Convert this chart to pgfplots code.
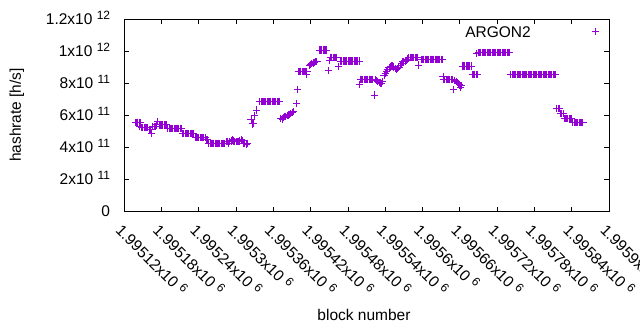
\documentclass[border=0pt]{standalone}
\usepackage{pgfplots}
\pgfplotsset{compat=1.18}
\usepackage{pgfplotstable}
\usepackage{fontspec}
\setmainfont{Liberation Sans}
\definecolor{argon}{RGB}{148,0,211}
\def\stripb#1#2#3#4#5\relax{#5}
\newcommand{\lbl}[2]{#1x10 \raisebox{5bp}{\fontsize{12bp}{12bp}\selectfont #2}}
\pgfplotstableread{
block hashrate
1995138 5.55e11
1995140 5.55e11
1995142 5.55e11
1995144 5.55e11
1995145 5.27e11
1995146 5.55e11
1995148 5.23e11
1995150 5.23e11
1995152 5.23e11
1995154 5.23e11
1995156 5.23e11
1995158 5.23e11
1995160 5.10e11
1995162 5.10e11
1995164 4.86e11
1995166 5.30e11
1995168 5.30e11
1995170 5.30e11
1995172 5.38e11
1995174 5.58e11
1995176 5.38e11
1995178 5.38e11
1995180 5.38e11
1995182 5.38e11
1995184 5.38e11
1995186 5.38e11
1995188 5.38e11
1995190 5.17e11
1995192 5.17e11
1995194 5.17e11
1995196 5.17e11
1995198 5.17e11
1995200 5.17e11
1995202 5.17e11
1995204 5.17e11
1995206 5.17e11
1995208 5.17e11
1995210 5.17e11
1995212 5.17e11
1995214 4.86e11
1995216 4.86e11
1995218 4.86e11
1995220 4.86e11
1995222 4.86e11
1995224 4.86e11
1995226 4.86e11
1995228 4.86e11
1995230 4.86e11
1995232 4.86e11
1995234 4.60e11
1995236 4.60e11
1995238 4.60e11
1995240 4.60e11
1995242 4.60e11
1995244 4.60e11
1995246 4.60e11
1995248 4.60e11
1995250 4.60e11
1995252 4.44e11
1995254 4.44e11
1995256 4.23e11
1995258 4.23e11
1995260 4.23e11
1995262 4.23e11
1995264 4.23e11
1995266 4.23e11
1995268 4.23e11
1995270 4.23e11
1995272 4.23e11
1995274 4.23e11
1995276 4.23e11
1995278 4.23e11
1995280 4.23e11
1995282 4.23e11
1995284 4.33e11
1995286 4.33e11
1995288 4.20e11
1995290 4.33e11
1995292 4.38e11
1995294 4.44e11
1995296 4.38e11
1995298 4.33e11
1995300 4.33e11
1995302 4.33e11
1995304 4.33e11
1995306 4.38e11
1995308 4.48e11
1995310 4.40e11
1995312 4.23e11
1995314 4.23e11
1995316 4.23e11
1995317 4.17e11
1995318 4.23e11
1995324 5.69e11
1995326 5.44e11
1995328 5.50e11
1995330 5.94e11
1995333 6.31e11
1995338 6.85e11
1995340 6.85e11
1995342 6.85e11
1995344 6.85e11
1995346 6.85e11
1995348 6.85e11
1995350 6.85e11
1995352 6.85e11
1995354 6.85e11
1995356 6.85e11
1995358 6.85e11
1995360 6.85e11
1995362 6.85e11
1995364 6.85e11
1995366 6.85e11
1995368 6.85e11
1995370 6.85e11
1995372 5.80e11
1995374 5.75e11
1995376 5.85e11
1995378 5.90e11
1995380 5.90e11
1995382 5.95e11
1995384 6.00e11
1995386 6.05e11
1995388 6.10e11
1995390 6.15e11
1995392 6.20e11
1995397 6.73e11
1995399 7.60e11
1995400 8.71e11
1995402 8.71e11
1995404 8.71e11
1995406 8.71e11
1995408 8.71e11
1995410 8.71e11
1995412 8.71e11
1995413 8.54e11
1995414 8.71e11
1995418 9.10e11
1995420 9.15e11
1995422 9.20e11
1995424 9.25e11
1995426 9.30e11
1995428 9.33e11
1995430 9.33e11
1995434 1.006e12
1995436 1.006e12
1995438 1.006e12
1995440 1.006e12
1995442 1.006e12
1995444 1.006e12
1995446 1.006e12
1995448 8.77e11
1995451 9.40e11
1995452 9.60e11
1995454 9.60e11
1995456 9.60e11
1995458 9.60e11
1995460 9.60e11
1995462 9.60e11
1995465 9.02e11
1995468 9.375e11
1995470 9.375e11
1995472 9.375e11
1995474 9.375e11
1995476 9.375e11
1995478 9.375e11
1995480 9.375e11
1995482 9.375e11
1995484 9.375e11
1995486 9.375e11
1995488 9.375e11
1995490 9.375e11
1995492 9.375e11
1995494 9.375e11
1995496 9.375e11
1995498 9.375e11
1995499 7.92e11
1995500 8.23e11
1995502 8.23e11
1995504 8.23e11
1995506 8.23e11
1995508 8.23e11
1995510 8.23e11
1995512 8.23e11
1995514 8.23e11
1995516 8.23e11
1995518 8.23e11
1995520 8.23e11
1995522 7.25e11
1995524 8.20e11
1995526 8.15e11
1995528 8.10e11
1995530 8.05e11
1995532 8.00e11
1995534 7.98e11
1995536 8.10e11
1995538 8.45e11
1995540 8.60e11
1995542 8.75e11
1995544 8.85e11
1995546 8.98e11
1995548 9.00e11
1995550 9.06e11
1995552 9.06e11
1995554 9.00e11
1995556 8.90e11
1995558 8.85e11
1995560 8.90e11
1995562 8.95e11
1995564 9.10e11
1995566 9.20e11
1995568 9.33e11
1995570 9.33e11
1995572 9.33e11
1995574 9.40e11
1995576 9.50e11
1995578 9.60e11
1995580 9.60e11
1995582 9.60e11
1995584 9.60e11
1995586 9.60e11
1995588 9.60e11
1995590 9.60e11
1995592 9.60e11
1995594 9.125e11
1995598 9.48e11
1995600 9.48e11
1995602 9.48e11
1995604 9.48e11
1995606 9.48e11
1995608 9.48e11
1995610 9.48e11
1995612 9.48e11
1995614 9.48e11
1995616 9.48e11
1995618 9.48e11
1995620 9.48e11
1995622 9.48e11
1995624 9.48e11
1995626 9.48e11
1995628 9.48e11
1995630 9.48e11
1995632 9.48e11
1995633 8.40e11
1995634 8.23e11
1995636 8.23e11
1995638 8.23e11
1995640 8.23e11
1995642 8.23e11
1995644 8.23e11
1995646 8.23e11
1995648 8.23e11
1995650 7.60e11
1995652 8.15e11
1995654 8.10e11
1995656 8.05e11
1995658 7.95e11
1995660 7.88e11
1995661 7.70e11
1995662 7.85e11
1995664 9.06e11
1995666 9.06e11
1995668 9.06e11
1995670 9.06e11
1995672 9.06e11
1995674 9.06e11
1995676 9.06e11
1995678 9.06e11
1995680 8.54e11
1995682 8.54e11
1995684 8.54e11
1995686 8.54e11
1995687 9.85e11
1995688 8.54e11
1995690 9.90e11
1995692 9.90e11
1995694 9.90e11
1995696 9.90e11
1995698 9.90e11
1995700 9.90e11
1995702 9.90e11
1995704 9.90e11
1995706 9.90e11
1995708 9.90e11
1995710 9.90e11
1995712 9.90e11
1995714 9.90e11
1995716 9.90e11
1995718 9.90e11
1995720 9.90e11
1995722 9.90e11
1995724 9.90e11
1995726 9.90e11
1995728 9.90e11
1995730 9.90e11
1995732 9.90e11
1995734 9.90e11
1995736 9.90e11
1995738 9.90e11
1995740 9.90e11
1995742 8.54e11
1995744 8.54e11
1995746 8.54e11
1995748 8.54e11
1995750 8.54e11
1995752 8.54e11
1995754 8.54e11
1995756 8.54e11
1995758 8.54e11
1995760 8.54e11
1995762 8.54e11
1995764 8.54e11
1995766 8.54e11
1995768 8.54e11
1995770 8.54e11
1995772 8.54e11
1995774 8.54e11
1995776 8.54e11
1995778 8.54e11
1995780 8.54e11
1995782 8.54e11
1995784 8.54e11
1995786 8.54e11
1995788 8.54e11
1995790 8.54e11
1995792 8.54e11
1995794 8.54e11
1995796 8.54e11
1995798 8.54e11
1995800 8.54e11
1995802 8.54e11
1995804 8.54e11
1995806 8.54e11
1995808 8.54e11
1995810 8.54e11
1995812 8.54e11
1995814 8.54e11
1995816 6.42e11
1995818 6.42e11
1995820 6.42e11
1995822 6.10e11
1995824 6.10e11
1995826 6.10e11
1995828 5.80e11
1995830 5.80e11
1995832 5.80e11
1995834 5.80e11
1995836 5.80e11
1995838 5.80e11
1995840 5.80e11
1995842 5.54e11
1995844 5.54e11
1995846 5.54e11
1995848 5.54e11
1995850 5.54e11
1995852 5.54e11
1995854 5.54e11
1995856 5.54e11
1995858 5.54e11
}\argon
\begin{document}
\fontsize{15.5bp}{18bp}\selectfont
\begin{tikzpicture}
\useasboundingbox (-124.3bp,-119bp) rectangle (515.7bp,211bp);
\begin{axis}[
  at={(0,0)}, anchor=south west,
  scale only axis, width=484.7bp, height=192bp,
  x coord trafo/.code={\edef\pgfmathresult{\stripb#1\relax}},
  xmin=1995120, xmax=1995900, ymin=0, ymax=1.2e12,
  xtick={1995120,1995180,1995240,1995300,1995360,1995420,1995480,1995540,1995600,1995660,1995720,1995780,1995840,1995900},
  xticklabels={\lbl{1.99512}{6},\lbl{1.99518}{6},\lbl{1.99524}{6},\lbl{1.9953}{6},\lbl{1.99536}{6},\lbl{1.99542}{6},\lbl{1.99548}{6},\lbl{1.99554}{6},\lbl{1.9956}{6},\lbl{1.99566}{6},\lbl{1.99572}{6},\lbl{1.99578}{6},\lbl{1.99584}{6},\lbl{1.9959}{6}},
  ytick={0,2e11,4e11,6e11,8e11,1e12,1.2e12},
  yticklabels={0,\lbl{2}{11},\lbl{4}{11},\lbl{6}{11},\lbl{8}{11},\lbl{1}{12},\lbl{1.2}{12}},
  scaled y ticks=false,
  tick align=inside, major tick length=4.5bp,
  axis line style={line width=0.9bp},
  every tick/.style={black, line width=0.9bp},
  xticklabel style={rotate=-45, anchor=north west, inner sep=0pt},
  xticklabel shift=11bp,
  yticklabel style={anchor=base east, inner sep=0pt, xshift=-14bp, yshift=-5.5bp},
  xlabel={block number}, ylabel={hashrate [h/s]},
  xlabel style={at={(axis description cs:0.4945,-0.5417)}, anchor=center},
  ylabel style={at={(axis description cs:-0.2214,0.5)}, anchor=center},
  legend style={draw=none, fill=none, at={(1,1)}, anchor=north east, xshift=-8bp, yshift=-7bp, inner sep=0pt, nodes={inner sep=0pt}},
  legend plot pos=right,
  legend image code/.code={\path[draw=none] (0bp,0bp) -- (70bp,0bp); \draw[#1, only marks] plot coordinates {(65bp,1bp)};},
]
\addplot[only marks, mark=+, mark size=3.6bp, color=argon, line width=1bp] table[x=block, y=hashrate]{\argon};
\addlegendentry{ARGON2}
\end{axis}
\end{tikzpicture}
\end{document}
